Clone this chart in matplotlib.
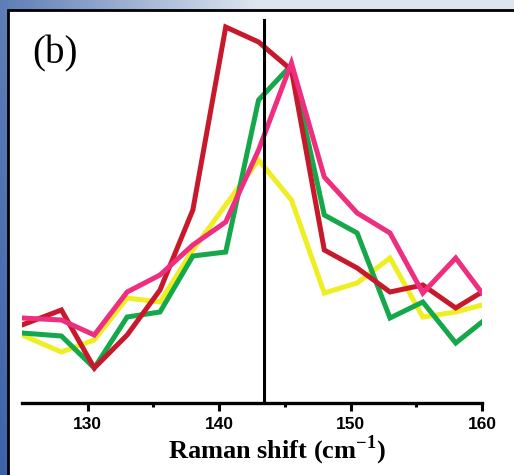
import numpy as np
import matplotlib.pyplot as plt
from matplotlib.patches import Rectangle

plt.rcParams['mathtext.fontset'] = 'custom'
plt.rcParams['mathtext.rm'] = 'Liberation Serif:bold'

# Raman shift positions (cm^-1) of the sampled points
shift = [125, 128, 130.5, 133, 135.5, 138, 140.5, 143, 145.5, 148, 150.5, 153, 155.5, 158, 160]

# intensities (a.u.)
yellow = [68, 51, 63, 105, 101, 153, 198, 243, 203, 110, 120, 145, 86, 91, 98]
green = [70, 67, 35, 86, 91, 147, 151, 303, 338, 188, 170, 85, 101, 60, 81]
red = [78, 93, 35, 68, 113, 193, 376, 361, 333, 153, 135, 111, 118, 95, 111]
pink = [85, 83, 68, 111, 128, 158, 181, 253, 340, 226, 190, 170, 110, 145, 110]

ref_line = 143.4
ref_top = 383

major_ticks = [130, 140, 150, 160]
minor_ticks = [135, 145, 155]

W, H = 514, 475
fig = plt.figure(figsize=(W / 100, H / 100), dpi=100)

# bluish background frame
bg = fig.add_axes([0, 0, 1, 1])
bg.set_axis_off()
gx = np.linspace(0, 1, 200)
gy = np.linspace(0, 1, 200)
GX, GY = np.meshgrid(gx, gy)
t = np.clip(GX * 1.6 + (1 - GY) * 0.2, 0, 1)
c0 = np.array([0.24, 0.39, 0.66])
c1 = np.array([0.87, 0.90, 0.94])
img = c0[None, None, :] * (1 - t[..., None]) + c1[None, None, :] * t[..., None]
bg.imshow(img, extent=[0, 1, 0, 1], aspect='auto', origin='upper')
bg.set_xlim(0, 1)
bg.set_ylim(0, 1)
bg.add_patch(Rectangle((8 / W, -0.05), 1.1, (H - 10) / H + 0.05,
                       facecolor='white', edgecolor='black', linewidth=2))

ax = fig.add_axes([22 / W, 72 / H, 460 / W, 388 / H])
ax.patch.set_alpha(0)

ax.plot(shift, yellow, color='#eeee22', lw=3.6, solid_joinstyle='miter')
ax.plot(shift, green, color='#14a84a', lw=3.6, solid_joinstyle='miter')
ax.plot(shift, red, color='#c8192c', lw=3.6, solid_joinstyle='miter')
ax.plot(shift, pink, color='#ee2e7f', lw=3.6, solid_joinstyle='miter')
ax.plot([ref_line, ref_line], [0, ref_top], color='black', lw=2.2)

ax.set_xlim(125, 160)
ax.set_ylim(0, 388)
for s in ['left', 'right', 'top']:
    ax.spines[s].set_visible(False)
ax.spines['bottom'].set_linewidth(2.4)
ax.set_yticks([])
ax.set_xticks(major_ticks)
ax.set_xticks(minor_ticks, minor=True)
ax.tick_params(axis='x', which='major', direction='out', length=6, width=2.2, pad=4)
ax.tick_params(axis='x', which='minor', direction='out', length=3, width=2.2)
for lab in ax.get_xticklabels():
    lab.set_fontfamily('Liberation Sans')
    lab.set_fontweight('bold')
    lab.set_fontsize(12.5)

ax.set_xlabel(r'Raman shift (cm$^{\mathrm{-1}}$)', fontfamily='Liberation Serif',
              fontweight='bold', fontsize=19)
ax.xaxis.set_label_coords(0.554, -0.08)

fig.text(32 / W, 1 - 54 / H, '(b)', fontfamily='Liberation Serif', fontsize=28,
         va='center', ha='left')

fig.savefig('out.png', dpi=100)
